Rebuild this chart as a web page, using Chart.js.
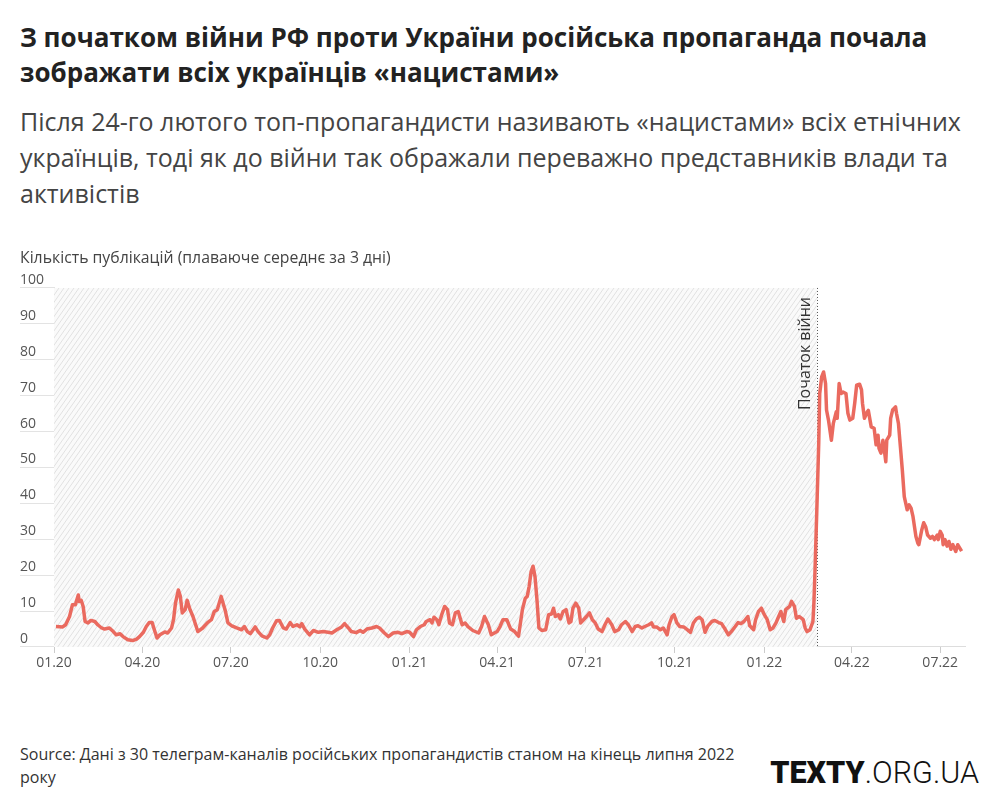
<!DOCTYPE html>
<html lang="uk">
<head>
<meta charset="utf-8">
<script src="https://cdn.jsdelivr.net/npm/chart.js@4.4.1/dist/chart.umd.min.js"></script>
<style>
  html, body { margin: 0; padding: 0; background: #fff; }
  body { width: 1000px; height: 804px; position: relative; overflow: hidden; font-family: "Open Sans", "Noto Sans", sans-serif; }
  #title { position: absolute; left: 20px; top: 20px; font-size: 26px; line-height: 35px; font-weight: 700; color: #222; white-space: nowrap; }
  #subtitle { position: absolute; left: 20px; top: 103px; font-size: 25px; line-height: 36px; color: #444; white-space: nowrap; }
  #chartBox { position: absolute; left: 0; top: 240px; width: 1000px; height: 440px; }
  #source { position: absolute; left: 20px; top: 743px; font-size: 16px; line-height: 23px; color: #333; white-space: nowrap; }
  #logo { position: absolute; right: 21px; top: 758px; font-family: Roboto, sans-serif; font-size: 30.5px; line-height: 1; color: #111; white-space: nowrap; }
  #logo b { font-weight: 900; }
  #logo span { font-weight: 300; }
</style>
</head>
<body>
<div id="title">З початком війни РФ проти України російська пропаганда почала<br>зображати всіх українців «нацистами»</div>
<div id="subtitle">Після 24-го лютого топ-пропагандисти називають «нацистами» всіх етнічних<br>українців, тоді як до війни так ображали переважно представників влади та<br>активістів</div>
<div id="chartBox"><canvas id="chart" width="1000" height="440"></canvas></div>
<div id="source">Source: Дані з 30 телеграм-каналів російських пропагандистів станом на кінець липня 2022<br>року</div>
<div id="logo"><b>TEXTY</b><span>.ORG.UA</span></div>

<script>
// дні від 01.01.2020
const days = [
  2, 9, 12, 16, 19, 22, 25, 26, 28, 30,
  32, 35, 38, 42, 45, 49, 52, 57, 61, 64,
  68, 71, 76, 81, 85, 88, 92, 95, 98, 101,
  103, 106, 109, 114, 117, 121, 123, 125, 128, 130,
  132, 135, 137, 140, 143, 148, 153, 158, 162, 165,
  168, 172, 174, 176, 179, 183, 188, 193, 196, 199,
  202, 207, 210, 214, 219, 222, 225, 229, 232, 236,
  239, 243, 246, 250, 253, 255, 258, 263, 267, 272,
  277, 282, 286, 291, 296, 299, 303, 306, 311, 315,
  318, 322, 327, 332, 335, 340, 344, 349, 354, 358,
  363, 366, 370, 373, 377, 381, 383, 387, 389, 391,
  394, 396, 399, 402, 405, 407, 410, 413, 416, 418,
  420, 423, 426, 431, 437, 440, 443, 447, 450, 456,
  459, 462, 466, 470, 474, 478, 480, 482, 485, 487,
  489, 491, 493, 495, 497, 499, 502, 506, 509, 512,
  514, 516, 519, 521, 524, 527, 530, 532, 534, 537,
  540, 542, 545, 548, 551, 554, 557, 560, 564, 567,
  570, 574, 577, 581, 584, 588, 591, 595, 598, 601,
  605, 608, 612, 615, 617, 620, 624, 627, 631, 633,
  636, 638, 641, 644, 648, 651, 655, 658, 661, 664,
  667, 670, 673, 677, 680, 684, 687, 691, 694, 697,
  701, 704, 707, 710, 714, 716, 720, 722, 725, 728,
  731, 734, 737, 740, 743, 745, 748, 751, 753, 757,
  759, 762, 764, 767, 771, 773, 775, 778, 781, 782,
  783, 785, 787, 788, 790, 792, 794, 795, 797, 800,
  802, 805, 806, 808, 810, 812, 815, 817, 819, 822,
  824, 826, 829, 831, 832, 834, 837, 838, 841, 844,
  846, 848, 849, 851, 853, 854, 856, 857, 860, 861,
  863, 866, 867, 869, 871, 873, 875, 878, 880, 882,
  884, 887, 889, 890, 893, 895, 897, 899, 902, 904,
  906, 909, 910, 912, 914, 915, 917, 919, 921, 923,
  925, 928, 930, 932, 934
];

// кількість публікацій (плаваюче середнє за 3 дні)
const publications = [
  5.7, 5.6, 6.2, 8.5, 11.8, 11.8, 14.5, 12.7, 13.0, 11.3,
  7.1, 6.7, 7.4, 7.1, 6.2, 5.3, 5.0, 5.3, 4.3, 3.4,
  3.7, 2.9, 2.0, 1.8, 2.2, 2.9, 4.1, 5.7, 6.8, 6.8,
  5.0, 2.5, 3.4, 4.2, 3.9, 5.3, 7.6, 12.2, 15.9, 14.1,
  9.5, 10.4, 13.0, 10.4, 8.5, 4.3, 5.3, 6.8, 7.6, 9.9,
  10.4, 14.1, 12.2, 10.4, 6.7, 5.9, 5.3, 4.8, 5.7, 4.3,
  3.7, 5.6, 4.3, 3.1, 2.5, 3.4, 5.3, 7.3, 7.4, 5.3,
  5.0, 6.8, 5.7, 6.2, 5.6, 6.5, 5.0, 3.4, 4.6, 4.1,
  4.3, 4.1, 3.9, 4.8, 5.6, 6.5, 5.3, 4.3, 4.0, 4.6,
  4.1, 5.0, 5.3, 5.7, 5.3, 3.9, 2.9, 3.9, 4.1, 3.7,
  4.3, 4.1, 2.9, 4.8, 5.7, 6.2, 7.1, 7.6, 6.7, 8.3,
  7.6, 6.2, 9.0, 11.3, 10.4, 6.7, 6.2, 9.5, 9.9, 8.0,
  6.2, 6.7, 5.7, 4.6, 3.9, 5.7, 8.5, 6.2, 3.4, 4.3,
  5.7, 7.6, 7.6, 5.0, 4.3, 3.0, 6.7, 10.4, 13.6, 14.1,
  16.9, 21.0, 22.5, 19.6, 13.2, 5.3, 4.6, 4.8, 9.0, 9.2,
  10.8, 8.5, 9.0, 7.8, 9.9, 10.4, 6.7, 7.1, 10.8, 12.2,
  10.8, 6.7, 7.6, 8.5, 9.5, 7.6, 6.7, 5.0, 4.3, 6.2,
  7.8, 6.2, 4.3, 4.8, 6.2, 7.1, 6.2, 4.3, 5.7, 5.9,
  5.3, 5.7, 6.2, 6.7, 5.6, 5.6, 4.8, 5.3, 3.4, 6.2,
  8.5, 9.0, 6.7, 5.7, 5.6, 5.0, 4.1, 6.7, 7.8, 8.3,
  7.6, 4.1, 5.9, 7.1, 7.4, 6.8, 6.5, 4.8, 3.4, 4.3,
  5.7, 6.8, 6.5, 7.1, 8.5, 5.9, 4.8, 7.6, 9.9, 10.8,
  9.0, 7.6, 4.8, 5.3, 6.7, 8.0, 9.9, 7.1, 10.4, 11.3,
  12.7, 11.3, 8.0, 8.5, 7.6, 5.3, 4.3, 4.8, 7.1, 12.2,
  20.0, 38.0, 57.0, 70.6, 75.2, 76.6, 73.4, 66.0, 63.2, 57.6,
  62.3, 65.5, 63.7, 73.4, 70.6, 71.0, 70.6, 65.1, 63.2, 63.7,
  67.9, 72.9, 73.2, 71.6, 67.9, 63.7, 65.5, 65.9, 61.3, 60.9,
  56.3, 59.0, 55.3, 54.0, 57.6, 55.9, 51.6, 57.6, 59.0, 63.7,
  66.0, 66.9, 65.1, 62.3, 55.8, 49.3, 41.9, 38.2, 39.6, 38.7,
  36.3, 30.8, 28.9, 28.5, 32.6, 34.6, 33.5, 31.2, 30.3, 30.8,
  29.9, 31.2, 29.9, 32.2, 31.2, 28.5, 29.9, 28.1, 29.4, 27.2,
  28.5, 26.6, 28.5, 27.6, 26.7
];

// підписи осі X (перше число кварталу)
const tickDays = [0, 91, 182, 274, 366, 456, 547, 639, 731, 821, 912];
const tickLabels = ["01.20", "04.20", "07.20", "10.20", "01.21", "04.21", "07.21", "10.21", "01.22", "04.22", "07.22"];
const yTicks = [0, 10, 20, 30, 40, 50, 60, 70, 80, 90, 100];

const warStartDay = 785; // 24.02.2022
const warLabel = "Початок війни";
const axisTitle = "Кількість публікацій (плаваюче середнє за 3 дні)";

if (days.length !== publications.length) console.error("довжини не збігаються", days.length, publications.length);

const FONT = "'Open Sans', 'Noto Sans', sans-serif";

// штрихування до війни + пунктирна лінія
const warPlugin = {
  id: "warPlugin",
  beforeDatasetsDraw(chart) {
    const { ctx, chartArea: a, scales } = chart;
    const xw = scales.x.getPixelForValue(warStartDay);
    const h = a.bottom - a.top;

    ctx.save();
    ctx.beginPath();
    ctx.rect(a.left, a.top, xw - a.left, h);
    ctx.clip();
    ctx.fillStyle = "#fafafa";
    ctx.fillRect(a.left, a.top, xw - a.left, h);
    ctx.strokeStyle = "#e1e1e1";
    ctx.lineWidth = 1;
    const slant = h * 0.7;
    for (let s = a.left - slant; s < xw; s += 5) {
      ctx.beginPath();
      ctx.moveTo(s, a.bottom);
      ctx.lineTo(s + slant, a.top);
      ctx.stroke();
    }
    ctx.restore();

    ctx.save();
    ctx.strokeStyle = "#555";
    ctx.lineWidth = 1;
    ctx.setLineDash([1, 2]);
    ctx.beginPath();
    ctx.moveTo(Math.round(xw) + 0.5, a.top);
    ctx.lineTo(Math.round(xw) + 0.5, a.bottom);
    ctx.stroke();
    ctx.restore();

    ctx.save();
    ctx.translate(xw - 7, a.top + 9);
    ctx.rotate(-Math.PI / 2);
    ctx.font = "16px " + FONT;
    ctx.fillStyle = "#333";
    ctx.textAlign = "right";
    ctx.textBaseline = "alphabetic";
    ctx.fillText(warLabel, 0, 0);
    ctx.restore();
  }
};

new Chart(document.getElementById("chart"), {
  type: "line",
  data: {
    datasets: [{
      data: days.map((d, i) => ({ x: d, y: publications[i] })),
      borderColor: "#ea6a5f",
      borderWidth: 3.5,
      borderJoinStyle: "round",
      pointRadius: 0,
      tension: 0,
      fill: false
    }]
  },
  options: {
    responsive: false,
    animation: false,
    layout: { padding: { left: 20, right: 35, top: 0, bottom: 0 } },
    plugins: {
      legend: { display: false },
      tooltip: { enabled: false },
      title: {
        display: true,
        text: axisTitle,
        align: "start",
        color: "#444",
        font: { family: FONT, size: 15.8, weight: "normal" },
        padding: { top: 9, bottom: 20 }
      }
    },
    scales: {
      x: {
        type: "linear",
        min: 0,
        max: 937.5,
        afterBuildTicks: (scale) => { scale.ticks = tickDays.map(v => ({ value: v })); },
        afterFit: (scale) => { scale.height = 33; },
        ticks: {
          callback: (v) => tickLabels[tickDays.indexOf(v)],
          color: "#555",
          font: { family: FONT, size: 14 },
          padding: 2,
          maxRotation: 0,
          autoSkip: false
        },
        grid: { drawOnChartArea: false, drawTicks: true, tickLength: 6, color: "#ccc" },
        border: { display: true, color: "#ddd" }
      },
      y: {
        min: 0,
        max: 100,
        afterBuildTicks: (scale) => { scale.ticks = yTicks.map(v => ({ value: v })); },
        afterFit: (scale) => { scale.width = 34; },
        ticks: {
          color: "#555",
          font: { family: FONT, size: 14 },
          crossAlign: "far",
          labelOffset: -8,
          padding: 0
        },
        grid: { drawOnChartArea: false, drawTicks: true, tickLength: 34, color: "#e3e3e3" },
        border: { display: true, color: "#e3e3e3" }
      }
    }
  },
  plugins: [warPlugin]
});
</script>
</body>
</html>
